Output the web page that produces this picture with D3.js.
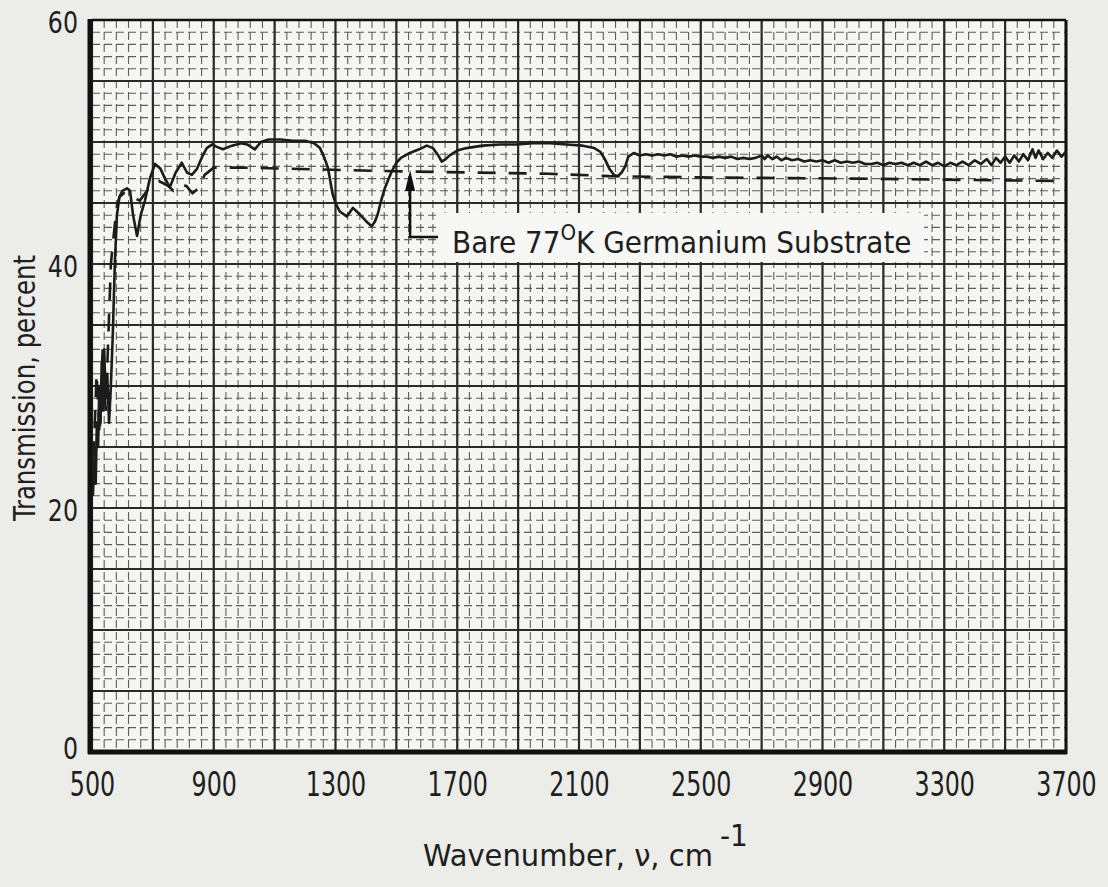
<!DOCTYPE html>
<html>
<head>
<meta charset="utf-8">
<script src="https://cdn.jsdelivr.net/npm/d3@7"></script>
<style>
  body { margin: 0; background: #ecece9; }
  svg { display: block; }
  text { font-family: "DejaVu Sans Condensed", "Liberation Sans Narrow", sans-serif; fill: #1e1e1e; }
</style>
</head>
<body>
<div id="chart"></div>
<script>
// tick labels
const xTicks = [500, 900, 1300, 1700, 2100, 2500, 2900, 3300, 3700];
const yTicks = [0, 20, 40, 60];

// measured trace (solid)
const sampleWn = [503, 508, 512, 516, 520, 524, 528, 532, 536, 540, 545, 550, 556, 562, 568, 575, 582, 590, 600, 615, 625, 635, 648, 660, 674, 690, 707, 725, 740, 756, 775, 795, 812, 828, 845, 862, 877, 895, 910, 930, 960, 990, 1010, 1035, 1055, 1080, 1120, 1160, 1200, 1230, 1249, 1262, 1275, 1290, 1300, 1314, 1337, 1357, 1370, 1386, 1405, 1419, 1430, 1439, 1450, 1462, 1475, 1485, 1500, 1515, 1544, 1575, 1600, 1620, 1635, 1649, 1662, 1675, 1700, 1730, 1784, 1840, 1895, 1950, 2004, 2060, 2112, 2150, 2170, 2185, 2200, 2215, 2228, 2240, 2252, 2262, 2280, 2300, 2320, 2340, 2360, 2380, 2400, 2420, 2440, 2460, 2480, 2500, 2520, 2540, 2560, 2580, 2600, 2620, 2640, 2660, 2680, 2700, 2710, 2720, 2735, 2750, 2765, 2780, 2800, 2820, 2840, 2860, 2880, 2900, 2920, 2940, 2960, 2980, 3000, 3020, 3040, 3060, 3080, 3100, 3120, 3140, 3160, 3180, 3200, 3220, 3240, 3260, 3280, 3300, 3320, 3340, 3360, 3380, 3400, 3420, 3440, 3455, 3470, 3485, 3500, 3515, 3530, 3545, 3560, 3575, 3590, 3600, 3610, 3625, 3640, 3655, 3670, 3685, 3700];
const sampleT = [21, 24, 22, 27, 25, 30, 27, 32, 28, 33, 29, 31, 27, 30, 34, 40, 44, 45.5, 46, 46.2, 46, 44, 42.3, 44, 45.2, 47, 48.2, 47.8, 47, 46.3, 47.5, 48.3, 47.5, 47.3, 47.8, 48.8, 49.5, 49.8, 49.6, 49.4, 49.7, 49.9, 49.8, 49.4, 50.0, 50.2, 50.2, 50.1, 50.1, 49.9, 49.5, 48.8, 47.9, 45.8, 45.0, 44.3, 43.9, 44.6, 44.3, 43.9, 43.4, 43.1, 43.5, 44.1, 45.2, 46.2, 47.0, 47.6, 48.3, 48.7, 49.1, 49.4, 49.7, 49.5, 49.0, 48.4, 48.6, 48.9, 49.3, 49.5, 49.7, 49.8, 49.8, 49.9, 49.9, 49.8, 49.7, 49.5, 49.2, 48.6, 47.8, 47.3, 47.2, 47.5, 48.0, 48.8, 49.1, 48.9, 49.0, 48.9, 49.0, 48.9, 49.0, 48.8, 48.9, 48.8, 48.9, 48.8, 48.8, 48.7, 48.8, 48.7, 48.8, 48.6, 48.7, 48.6, 48.7, 48.9, 48.6, 48.9, 48.6, 48.8, 48.5, 48.7, 48.5, 48.6, 48.4, 48.5, 48.4, 48.5, 48.3, 48.5, 48.3, 48.4, 48.3, 48.4, 48.2, 48.2, 48.3, 48.1, 48.3, 48.2, 48.3, 48.1, 48.3, 48.1, 48.4, 48.1, 48.3, 48.0, 48.3, 48.1, 48.4, 48.1, 48.5, 48.2, 48.6, 48.1, 48.7, 48.3, 48.8, 48.3, 48.9, 48.4, 49.0, 48.5, 49.4, 48.7, 49.3, 48.6, 49.1, 48.7, 49.3, 48.8, 49.2];

// bare substrate trace (dashed)
const bareWn = [505, 515, 525, 535, 545, 555, 562, 570, 580, 590, 605, 630, 657, 690, 720, 750, 767, 790, 810, 830, 850, 870, 900, 1000, 1500, 2000, 2200, 2500, 3000, 3700];
const bareT = [24, 31, 26, 33, 28, 35, 40, 42, 44.5, 45.5, 45.8, 45.5, 45.2, 46.3, 46.8, 46.4, 46.0, 46.5, 46.4, 45.8, 46.2, 47.3, 47.9, 47.9, 47.6, 47.4, 47.2, 47.1, 47.0, 46.8];

const width = 1108, height = 887;

const svg = d3.select("#chart").append("svg")
  .attr("width", width)
  .attr("height", height);

const x = d3.scaleLinear().domain([500, 3700]).range([92, 1066]);
const y = d3.scaleLinear().domain([0, 60]).range([752, 20]);

// graph paper
svg.append("rect")
  .attr("x", x(500)).attr("y", y(60))
  .attr("width", x(3700) - x(500)).attr("height", y(0) - y(60))
  .attr("fill", "#f5f5f2");

const grid = svg.append("g").attr("class", "grid");

grid.selectAll("line.minor-x")
  .data(d3.range(500, 3701, 40))
  .enter().append("line")
  .attr("x1", d => x(d)).attr("x2", d => x(d))
  .attr("y1", y(60)).attr("y2", y(0))
  .attr("stroke", "#5e5e5e")
  .attr("stroke-width", 1.1)
  .attr("stroke-dasharray", "8,4");

grid.selectAll("line.minor-y")
  .data(d3.range(0, 61, 1))
  .enter().append("line")
  .attr("x1", x(500)).attr("x2", x(3700))
  .attr("y1", d => y(d)).attr("y2", d => y(d))
  .attr("stroke", "#5e5e5e")
  .attr("stroke-width", 1.1)
  .attr("stroke-dasharray", "8,4");

grid.selectAll("line.major-x")
  .data(d3.range(500, 3701, 200))
  .enter().append("line")
  .attr("x1", d => x(d)).attr("x2", d => x(d))
  .attr("y1", y(60)).attr("y2", y(0))
  .attr("stroke", "#2a2a2a")
  .attr("stroke-width", 2.2);

grid.selectAll("line.major-y")
  .data(d3.range(0, 61, 5))
  .enter().append("line")
  .attr("x1", x(500)).attr("x2", x(3700))
  .attr("y1", d => y(d)).attr("y2", d => y(d))
  .attr("stroke", "#2a2a2a")
  .attr("stroke-width", 2.2);

// frame
const frame = svg.append("g").attr("stroke", "#111").attr("fill", "none");
frame.append("line").attr("x1", x(500)).attr("x2", x(3700)).attr("y1", y(60)).attr("y2", y(60)).attr("stroke-width", 2.5);
frame.append("line").attr("x1", x(3700)).attr("x2", x(3700)).attr("y1", y(60)).attr("y2", y(0) + 2).attr("stroke-width", 3);
frame.append("line").attr("x1", x(500) - 2).attr("x2", x(500) - 2).attr("y1", y(60) - 1).attr("y2", y(0) + 2).attr("stroke-width", 5);
frame.append("line").attr("x1", x(500) - 4).attr("x2", x(3700) + 1).attr("y1", y(0)).attr("y2", y(0)).attr("stroke-width", 5);

// traces
const line = d3.line()
  .x(d => x(d[0]))
  .y(d => y(d[1]));

svg.append("path")
  .datum(d3.zip(bareWn, bareT))
  .attr("d", line)
  .attr("fill", "none")
  .attr("stroke", "#1c1c1c")
  .attr("stroke-width", 2.6)
  .attr("stroke-dasharray", "18,13");

svg.append("path")
  .datum(d3.zip(sampleWn, sampleT))
  .attr("d", line)
  .attr("fill", "none")
  .attr("stroke", "#1c1c1c")
  .attr("stroke-width", 2.6)
  .attr("stroke-linejoin", "round");

// axes (labels only), glyphs squeezed to match the narrow typeface
const xAxis = svg.append("g")
  .attr("transform", `translate(0,${y(0)})`)
  .call(d3.axisBottom(x).tickValues(xTicks).tickSize(0).tickPadding(21).tickFormat(d3.format("d")));
xAxis.select(".domain").remove();
xAxis.selectAll("text")
  .style("font-size", "33px")
  .attr("fill", "#1e1e1e")
  .attr("transform", "scale(0.8,1)");

const yAxis = svg.append("g")
  .attr("transform", `translate(${x(500) - 14},0)`)
  .call(d3.axisLeft(y).tickValues(yTicks).tickSize(0).tickPadding(0));
yAxis.select(".domain").remove();
yAxis.selectAll("text")
  .style("font-size", "31px")
  .attr("dy", d => d === 0 ? "0.2em" : "0.4em")
  .attr("fill", "#1e1e1e")
  .attr("transform", "scale(0.85,1)");

// axis titles
const xTitle = svg.append("text")
  .attr("x", 423).attr("y", 866)
  .style("font-size", "31px");
xTitle.append("tspan").attr("textLength", 290).attr("lengthAdjust", "spacingAndGlyphs").text("Wavenumber, \u03BD, cm");
xTitle.append("tspan").attr("x", 720).attr("dy", -20).text("-1");

svg.append("text")
  .attr("transform", "translate(35,388) rotate(-90)")
  .attr("text-anchor", "middle")
  .attr("textLength", 266)
  .attr("lengthAdjust", "spacingAndGlyphs")
  .style("font-size", "31px")
  .text("Transmission, percent");

// annotation
const ax = x(1545);
svg.append("rect")
  .attr("x", 440).attr("y", 213)
  .attr("width", 484).attr("height", y(40) - 215)
  .attr("fill", "#f7f7f5");

svg.append("path")
  .attr("d", `M${ax},${y(47.7)} L${ax - 5},${y(47.7) + 21} L${ax + 5},${y(47.7) + 21} Z`)
  .attr("fill", "#111");
svg.append("path")
  .attr("d", `M${ax},${y(47.7) + 18} V237 H438`)
  .attr("fill", "none")
  .attr("stroke", "#111")
  .attr("stroke-width", 2.5);

const note = svg.append("text")
  .attr("x", 452).attr("y", 253)
  .style("font-size", "31px");
note.append("tspan").text("Bare 77");
note.append("tspan").attr("dy", -13).style("font-size", "22px").text("O");
note.append("tspan").attr("dy", 13).text("K Germanium Substrate");
</script>
</body>
</html>
